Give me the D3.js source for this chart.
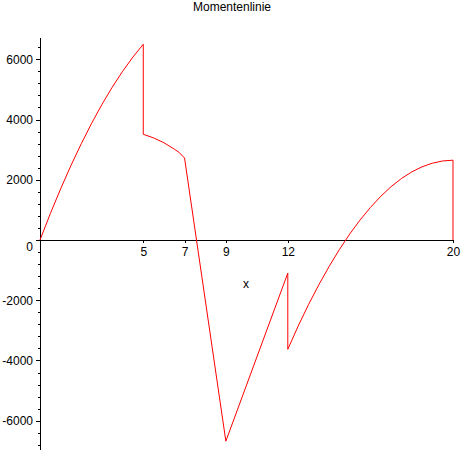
<!DOCTYPE html>
<html>
<head>
<meta charset="utf-8">
<script src="https://cdn.jsdelivr.net/npm/d3@7"></script>
<style>
  body { margin: 0; background: #fff; }
  svg { display: block; }
  text { font-family: "Liberation Sans", Arial, sans-serif; }
</style>
</head>
<body>
<div id="chart"></div>
<script>

// moment line values (jumps at x=5 and x=12, closing drop at x=20)
var xVals = [0, 0.5, 1, 1.5, 2, 2.5, 3, 3.5, 4, 4.5, 5,
             5, 5.5, 6, 6.5, 6.75, 7,
             9, 12,
             12, 12.5, 13, 13.5, 14, 14.5, 15, 15.5, 16, 16.5, 17, 17.5, 18, 18.5, 19, 19.5, 20,
             20];
var mVals = [0, 875, 1700, 2475, 3200, 3875, 4500, 5075, 5600, 6075, 6500,
             3510, 3390, 3230, 3020, 2900, 2720,
             -6680, -1100,
             -3630, -2860, -2150, -1490, -880, -315, 200, 665, 1080, 1450, 1770, 2040, 2260, 2430, 2550, 2625, 2650,
             0];

var xTicks = [5, 7, 9, 12, 20];
var yMajor = [-6000, -4000, -2000, 0, 2000, 4000, 6000];
var yMinor = d3.range(-6800, 6401, 400);
var yRange = [-6940, 6740];  // how far the y axis line is drawn
var title = "Momentenlinie";
var xName = "x";

var width = 464, height = 464;

var svg = d3.select("#chart").append("svg")
            .attr("width", width)
            .attr("height", height);

var x = d3.scaleLinear().domain([0, 20]).range([40, 453]);
var y = d3.scaleLinear().domain(yRange).range([240 + 6940 * 0.030117, 240 - 6740 * 0.030117]);

// y axis: minor ticks first, then the labelled ones
svg.append("g")
   .attr("transform", "translate(" + x(0) + ",0)")
   .call(d3.axisLeft(y).tickValues(yMinor).tickSize(2).tickSizeOuter(0).tickFormat(""))
   .call(function(g){ g.select(".domain").remove(); });

var yAxis = svg.append("g")
   .attr("transform", "translate(" + x(0) + ",0)")
   .call(d3.axisLeft(y).tickValues(yMajor).tickSize(4).tickSizeOuter(0).tickPadding(3)
           .tickFormat(function(d){ return String(d); }));

yAxis.selectAll("text")
     .style("font-size", "12px")
     .style("font-family", "Liberation Sans, Arial, sans-serif")
     .attr("fill", "#000");

// the 0 label sits below the x axis in the original
yAxis.selectAll(".tick")
     .filter(function(d){ return d === 0; })
     .select("text")
     .attr("dy", "0.9em");

// x axis through y = 0
var xAxis = svg.append("g")
   .attr("transform", "translate(0," + y(0) + ")")
   .call(d3.axisBottom(x).tickValues(xTicks).tickSize(3).tickSizeOuter(0).tickPadding(4));

xAxis.selectAll("text")
     .style("font-size", "12px")
     .style("font-family", "Liberation Sans, Arial, sans-serif")
     .attr("fill", "#000");

svg.selectAll(".domain, .tick line").attr("stroke", "#000").attr("shape-rendering", "crispEdges");

// the moment line
var pts = xVals.map(function(v, i){ return [v, mVals[i]]; });
var line = d3.line()
             .x(function(d){ return x(d[0]); })
             .y(function(d){ return y(d[1]); });

svg.append("path")
   .datum(pts)
   .attr("d", line)
   .attr("fill", "none")
   .attr("stroke", "#ff0000")
   .attr("stroke-width", 1);

// title and axis name
svg.append("text")
   .attr("x", 232)
   .attr("y", 11)
   .attr("text-anchor", "middle")
   .style("font-size", "12px")
   .text(title);

svg.append("text")
   .attr("x", 246)
   .attr("y", 288)
   .attr("text-anchor", "middle")
   .style("font-size", "12px")
   .text(xName);

</script>
</body>
</html>
